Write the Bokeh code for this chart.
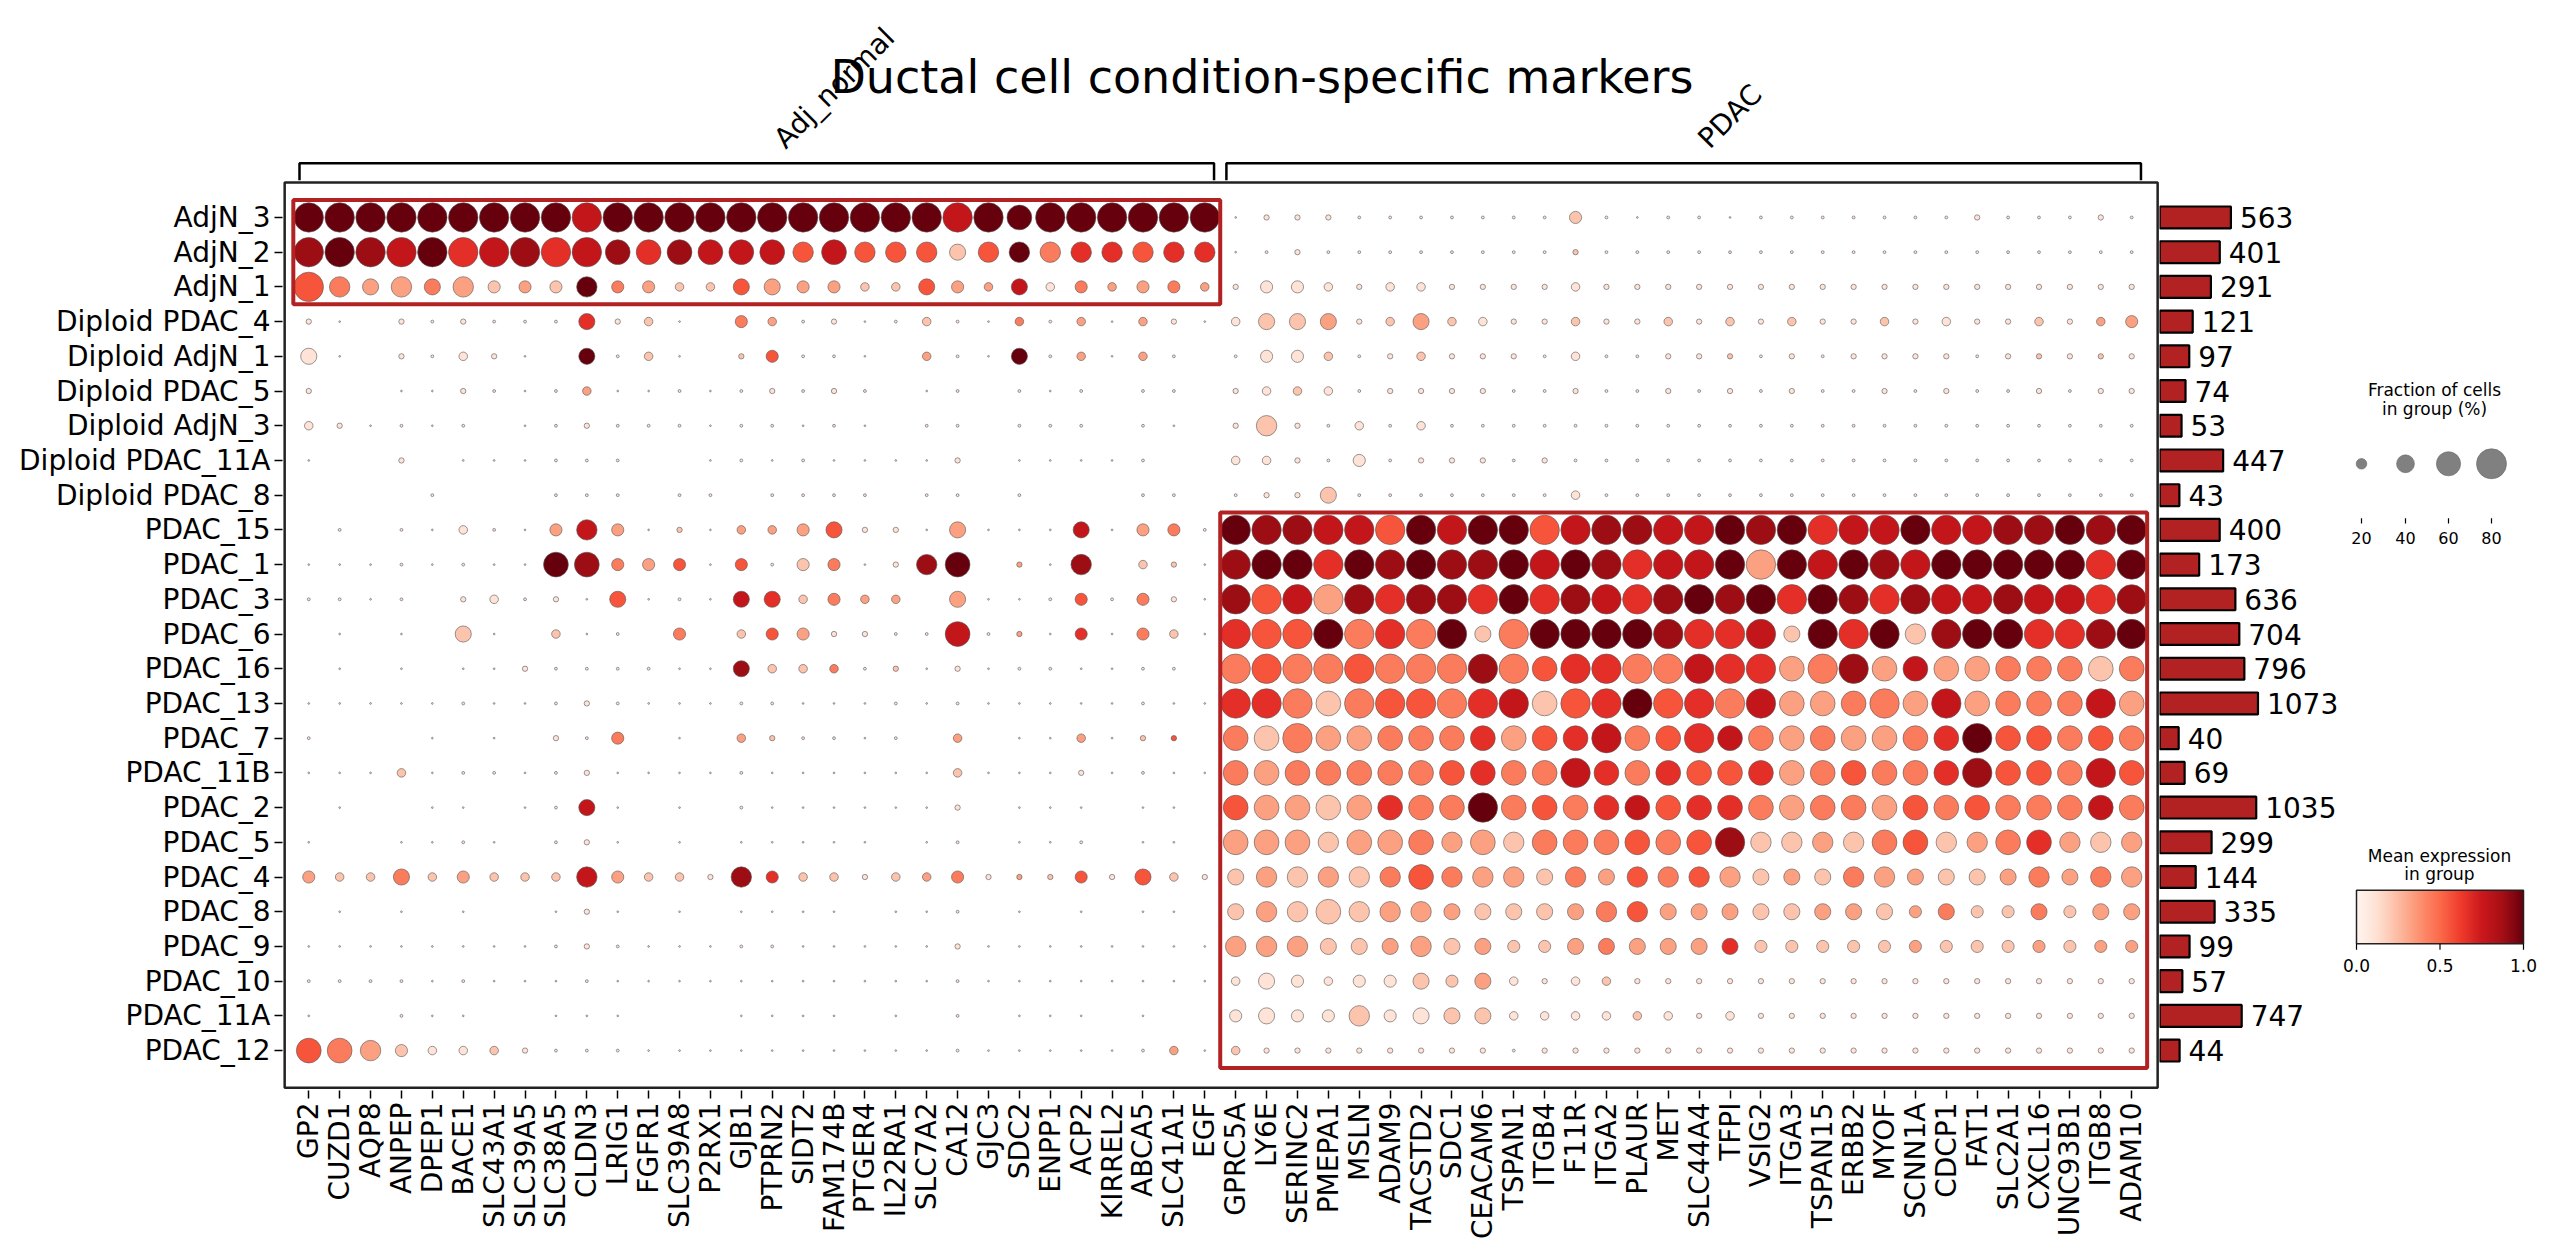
import math
import numpy as np
from bokeh.plotting import figure
from bokeh.models import Range1d, FixedTicker, LinearColorMapper, ColumnDataSource
from bokeh.layouts import row
from bokeh.palettes import Reds256
from bokeh.transform import linear_cmap
from bokeh.core.properties import value
from bokeh.embed import file_html
from bokeh.resources import INLINE

genes = ["GP2","CUZD1","AQP8","ANPEP","DPEP1","BACE1","SLC43A1","SLC39A5","SLC38A5","CLDN3",
         "LRIG1","FGFR1","SLC39A8","P2RX1","GJB1","PTPRN2","SIDT2","FAM174B","PTGER4","IL22RA1",
         "SLC7A2","CA12","GJC3","SDC2","ENPP1","ACP2","KIRREL2","ABCA5","SLC41A1","EGF",
         "GPRC5A","LY6E","SERINC2","PMEPA1","MSLN","ADAM9","TACSTD2","SDC1","CEACAM6","TSPAN1",
         "ITGB4","F11R","ITGA2","PLAUR","MET","SLC44A4","TFPI","VSIG2","ITGA3","TSPAN15",
         "ERBB2","MYOF","SCNN1A","CDCP1","FAT1","SLC2A1","CXCL16","UNC93B1","ITGB8","ADAM10"]
groups = ["Adj_normal", "PDAC"]
rows = ["AdjN_3","AdjN_2","AdjN_1","Diploid PDAC_4","Diploid AdjN_1","Diploid PDAC_5","Diploid AdjN_3",
        "Diploid PDAC_11A","Diploid PDAC_8","PDAC_15","PDAC_1","PDAC_3","PDAC_6","PDAC_16","PDAC_13",
        "PDAC_7","PDAC_11B","PDAC_2","PDAC_5","PDAC_4","PDAC_8","PDAC_9","PDAC_10","PDAC_11A","PDAC_12"]
counts = [563,401,291,121,97,74,53,447,43,400,173,636,704,796,1073,40,69,1035,299,144,335,99,57,747,44]

# fraction-of-cells level per digit, and mean expression = digit/9
frac_levels = [0, 0.018, 0.035, 0.08, 0.15, 0.24, 0.35, 0.48, 0.62, 0.78]
frac_code = [
"99999 99999 99999 99999 99989 99999 13332 22222 25212 21222 22223 22232",
"99999 99999 88888 87877 76777 77777 12322 22222 23222 22222 22222 22222",
"97676 75557 55446 65544 65464 54554 35543 44333 34333 33333 33333 33333",
"31032 32226 34105 42312 42142 41431 46663 46443 34334 34343 34343 34345",
"61032 43106 24103 52210 42162 41420 25542 34333 24223 33232 33332 33333",
"30011 32124 11212 32320 12021 20220 34442 33332 23223 23232 23232 23233",
"43121 20123 22212 21210 22022 20210 37324 24222 22222 22222 22222 22222",
"10030 11122 20012 12111 13011 11200 44325 23332 32222 22222 22222 22222",
"00002 00022 20220 22220 22020 00220 23362 22222 24222 22222 22222 22222",
"02021 42157 51314 45633 16111 61552 99999 99999 99999 99999 99999 99999",
"11121 21188 55515 25513 78031 70431 99999 99999 99999 99999 99999 99999",
"22120 34231 61216 64544 06112 52531 99999 99999 99999 99999 99999 99999",
"01010 61041 20504 55332 28231 51541 99999 99969 99999 99969 99799 99999",
"01010 11322 22116 44423 13122 11220 99999 99999 89999 99989 98888 88888",
"11111 21123 21112 21112 12111 11211 99989 99999 89999 99988 89898 88898",
"20001 01032 50104 32212 04011 41330 88988 88888 88988 98888 88889 88888",
"11141 22123 11112 11111 14111 31211 88888 88888 89888 88888 88889 88898",
"01001 10126 10102 11111 13011 10110 88888 88898 88888 88888 88888 88888",
"10011 21023 10101 11110 12011 20110 88878 88787 88888 89777 78877 88777",
"54464 54447 54437 54434 45333 53643 67777 78777 67677 77666 77666 67677",
"01010 10013 10101 11101 12010 10110 67787 77666 66776 66666 66565 56566",
"11111 11123 21112 21111 13111 11111 77766 67665 56666 66555 55555 55555",
"22221 21112 11111 11111 12111 11111 46545 56564 34433 33333 33333 33333",
"10021 10011 10001 11101 02011 10100 56557 56664 44444 34333 33333 33333",
"88754 44322 21111 11111 12111 11241 43333 33332 33333 33333 33333 33333",
]
expr_code = [
"99999 99997 99999 99999 97999 99999 11111 11111 12111 11111 11111 11111",
"89879 67867 86877 75755 52594 66566 11111 11111 12111 11111 11111 11111",
"54334 32329 43225 33322 53371 43343 11111 11111 11111 11111 11111 11111",
"11011 11116 12104 31111 21141 31311 12231 23211 12112 12121 12111 12133",
"11011 11109 12102 51110 31191 31310 11121 12111 11111 12111 11111 12121",
"10011 11113 11111 11110 11011 10110 11211 11111 11111 11111 11111 11111",
"11111 10111 11111 11110 11011 10110 12111 11111 11111 11111 11111 11111",
"10010 11111 10011 11111 11011 11100 11111 11111 11111 11111 11111 11111",
"00001 00011 10110 11110 11010 00110 11121 11111 11111 11111 11111 11111",
"01011 11137 31213 33511 13111 71341 98877 59799 57887 79896 77977 88989",
"11111 11198 43515 12411 89031 80221 89969 89889 79867 79397 98799 99969",
"11110 11111 51117 62433 03111 51411 85738 68869 68768 98969 86877 87768",
"01010 21021 10402 53111 17131 61421 65594 64924 99998 66729 69289 96689",
"01010 11111 11118 22412 11111 11110 45445 44484 56644 76634 83733 44424",
"11111 11111 11111 11111 11111 11111 66424 55467 25695 64733 44373 44473",
"10001 01011 40103 21111 03011 31250 42433 44463 56745 67434 33469 55454",
"11121 11111 11111 11111 12111 11111 43444 44564 47646 55634 54468 55475",
"01001 10117 10101 11111 11011 10110 53323 64494 54675 66434 43545 44474",
"10011 11011 10101 11110 11011 10110 33323 34332 44454 58223 24523 46323",
"32242 32227 32218 62212 34132 51521 23232 45433 24354 53232 43322 34343",
"01010 10011 10101 11101 11010 10110 23222 33322 23453 33223 32342 24233",
"11111 11111 11111 11111 11111 11111 33322 33232 23433 36222 22322 23233",
"11111 11111 11111 11111 11111 11111 11111 12231 11211 11111 11111 11111",
"10011 10011 10001 11101 01011 10100 11112 11221 11121 11111 11111 11111",
"54321 12111 11111 11111 11111 11131 21111 11111 11111 11111 11111 11111",
]
legend_fracs = [0.2, 0.4, 0.6, 0.8]
legend_labels = ["20", "40", "60", "80"]
cbar_ticks = [0.0, 0.5, 1.0]

FONT = value("DejaVu Sans")
palette = list(reversed(Reds256))

def dot_size(f):
    return 30.0 * (f / 0.8) ** 0.75

xs, ys, fr, ex, sz = [], [], [], [], []
for r, (fc, ec) in enumerate(zip(frac_code, expr_code)):
    fd = "".join(fc.split()); ed = "".join(ec.split())
    assert len(fd) == 60 and len(ed) == 60, (r, len(fd), len(ed))
    for j in range(60):
        f = frac_levels[int(fd[j])]
        if f <= 0:
            continue
        xs.append(j); ys.append(r); fr.append(f); ex.append(int(ed[j]) / 9.0); sz.append(dot_size(f))
src = ColumnDataSource(dict(x=xs, y=ys, frac=fr, expr=ex, size=sz))

FH = 1090
BOTTOM = 150
YR = (25.15, -6.25)

# ---------------- main dot plot ----------------
p = figure(frame_width=1877, frame_height=FH, min_border_left=282, min_border_right=0,
           min_border_top=0, min_border_bottom=BOTTOM,
           x_range=Range1d(-0.85, 59.9), y_range=Range1d(*YR),
           output_backend="svg", toolbar_location=None)
p.grid.visible = False
p.outline_line_color = None

p.xaxis.ticker = FixedTicker(ticks=list(range(60)))
p.xaxis.major_label_overrides = {i: g for i, g in enumerate(genes)}
p.xaxis.major_label_orientation = math.pi / 2
p.yaxis.ticker = FixedTicker(ticks=list(range(len(rows))))
p.yaxis.major_label_overrides = {i: n for i, n in enumerate(rows)}
for ax in (p.xaxis, p.yaxis):
    ax.axis_line_color = None
    ax.minor_tick_line_color = None
    ax.major_tick_in = 0
    ax.major_tick_out = 8
    ax.major_tick_line_width = 1.5
    ax.major_label_text_font = "DejaVu Sans"
    ax.major_label_text_font_size = "28px"
    ax.major_label_text_color = "black"
    ax.major_label_standoff = 4

p.quad(left=[-0.78], right=[59.84], top=[-1.01], bottom=[25.07],
       fill_color=None, line_color="#222222", line_width=2.5)

p.scatter(x="x", y="y", size="size", source=src,
          fill_color=linear_cmap("expr", palette, 0, 1),
          line_color="#555555", line_width=0.6)

p.quad(left=[-0.5, 29.5], right=[29.5, 59.5], top=[-0.5, 8.5], bottom=[2.5, 24.5],
       fill_color=None, line_color="#b22222", line_width=4)

p.multi_line(xs=[[-0.3, -0.3, 29.3, 29.3], [29.7, 29.7, 59.3, 59.3]],
             ys=[[-1.07, -1.56, -1.56, -1.07], [-1.07, -1.56, -1.56, -1.07]],
             line_color="black", line_width=2.5)
p.text(x=[15.6, 45.5], y=[-1.8, -1.8], text=groups, angle=math.pi / 4,
       text_align="left", text_baseline="bottom", text_font=FONT, text_font_size="28px")
p.text(x=[30.85], y=[-4.05], text=["Ductal cell condition-specific markers"],
       text_align="center", text_baseline="middle", text_font=FONT, text_font_size="46px")

# ---------------- bar chart of group sizes (sqrt-scaled length) ----------------
BW = 180
b = figure(frame_width=BW, frame_height=FH, min_border_left=0, min_border_right=0,
           min_border_top=0, min_border_bottom=BOTTOM,
           x_range=Range1d(-0.07, BW / 3.0 - 0.07), y_range=Range1d(*YR),
           x_axis_location=None, y_axis_location=None,
           output_backend="svg", toolbar_location=None)
b.grid.visible = False
b.outline_line_color = None
yi = list(range(len(rows)))
blen = [math.sqrt(c) for c in counts]
b.hbar(y=yi, left=0, right=blen, height=0.63, fill_color="#b22222",
       line_color="black", line_width=2.2)
b.text(x=[v + 3.0 for v in blen], y=yi, text=[str(c) for c in counts],
       text_align="left", text_baseline="middle", text_font=FONT, text_font_size="28px")

# ---------------- legends ----------------
LX0 = 8 + 282 + 1877 + BW
LW = 2551 - LX0
l = figure(width=LW, height=FH + BOTTOM, min_border=0,
           x_range=Range1d(LX0, 2551), y_range=Range1d(1248, 8),
           x_axis_location=None, y_axis_location=None,
           output_backend="svg", toolbar_location=None)
l.grid.visible = False
l.outline_line_color = None
l.text(x=[2442, 2442], y=[452, 474], text=["Fraction of cells", "in group (%)"],
       text_align="center", text_baseline="middle", text_font=FONT, text_font_size="17px")
lx = [2369, 2413, 2456, 2499]
l.scatter(x=lx, y=[536] * 4, size=[dot_size(f) for f in legend_fracs],
          fill_color="#808080", line_color="#666666", line_width=0.6)
l.segment(x0=lx, y0=[598] * 4, x1=lx, y1=[604] * 4, line_color="black", line_width=1.2)
l.text(x=lx, y=[621] * 4, text=legend_labels, text_align="center", text_baseline="middle",
       text_font=FONT, text_font_size="16px")

l.text(x=[2447, 2447], y=[983, 1004], text=["Mean expression", "in group"],
       text_align="center", text_baseline="middle", text_font=FONT, text_font_size="17px")
CB0, CB1 = 2364, 2531
cmap = LinearColorMapper(palette=palette, low=0, high=1)
l.image(image=[np.linspace(0, 1, 256).reshape(1, 256)], x=CB0, y=1022, dw=CB1 - CB0, dh=61,
        color_mapper=cmap)
l.quad(left=[CB0], right=[CB1], top=[1022], bottom=[1083], fill_color=None,
       line_color="#222222", line_width=1.5)
cx = [CB0 + t * (CB1 - CB0) for t in cbar_ticks]
l.segment(x0=cx, y0=[1083] * 3, x1=cx, y1=[1090] * 3, line_color="black", line_width=1.2)
l.text(x=cx, y=[1108] * 3, text=["%.1f" % t for t in cbar_ticks], text_align="center",
       text_baseline="middle", text_font=FONT, text_font_size="17px")

layout = row(p, b, l)
open("out.html", "w").write(file_html(layout, INLINE))
